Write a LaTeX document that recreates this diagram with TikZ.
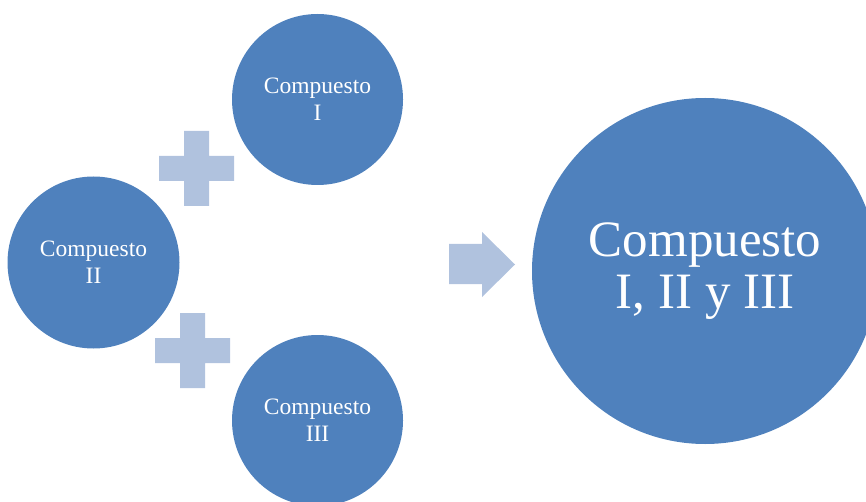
\documentclass[tikz,border=0pt]{standalone}
\usepackage{fontspec}
\setmainfont{Liberation Serif}
\definecolor{circblue}{HTML}{4F81BD}
\definecolor{lightblue}{HTML}{B0C2DE}
\begin{document}
\begin{tikzpicture}[x=1pt,y=-1pt,
  comp/.style={circle,fill=circblue,draw=none,inner sep=0pt,text=white,align=center},
  smallcomp/.style={comp,minimum size=171pt,font=\fontsize{23.5}{27}\selectfont},
  bigcomp/.style={comp,minimum size=346pt,font=\fontsize{51}{52}\selectfont},
  plusshape/.style={fill=lightblue,draw=none}]
\useasboundingbox (0,0) rectangle (866,502);
\clip (0,0) rectangle (866,502);
\node[smallcomp] (c1) at (317.5,99.5) {Compuesto\\I};
\node[smallcomp,minimum size=172pt] (c2) at (93.5,262.5) {Compuesto\\II};
\node[smallcomp] (c3) at (317.5,420.5) {Compuesto\\III};
\node[bigcomp] (c4) at (705,271) {Compuesto\\I, II y III};
% plus signs
\fill[plusshape] (184,131) -- (209,131) -- (209,156) -- (234,156) -- (234,181) -- (209,181) -- (209,206) -- (184,206) -- (184,181) -- (159,181) -- (159,156) -- (184,156) -- cycle;
\fill[plusshape] (180,313) -- (205,313) -- (205,338) -- (230,338) -- (230,363) -- (205,363) -- (205,388) -- (180,388) -- (180,363) -- (155,363) -- (155,338) -- (180,338) -- cycle;
% arrow
\fill[plusshape] (449,244) -- (482,244) -- (482,232) -- (515,264.5) -- (482,297) -- (482,284) -- (449,284) -- cycle;
\end{tikzpicture}
\end{document}
